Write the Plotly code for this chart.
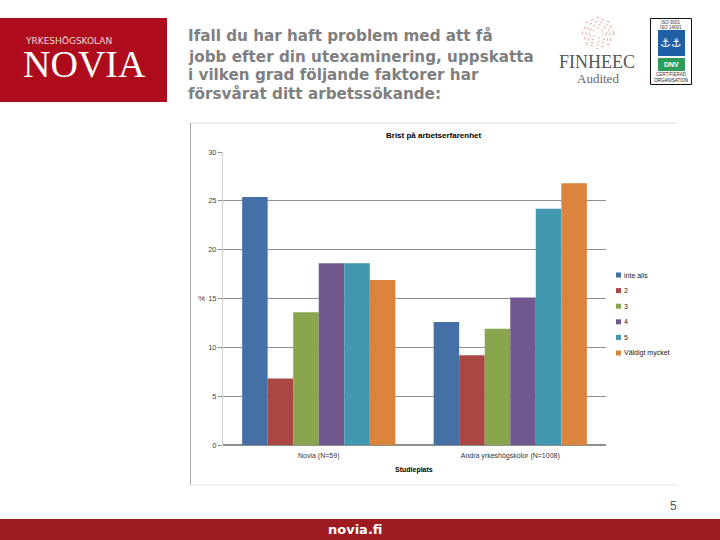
import math
import plotly.graph_objects as go

categories = ["Novia (N=59)", "Andra yrkeshögskolor (N=1008)"]
series_names = ["inte alls", "2", "3", "4", "5", "Väldigt mycket"]
series_colors = ["#4470A5", "#AA4643", "#89A54E", "#71588F", "#4198AF", "#DB843D"]
novia_values = [25.4, 6.8, 13.6, 18.6, 18.6, 16.9]
andra_values = [12.6, 9.2, 11.9, 15.1, 24.2, 26.8]
y_ticks = [0, 5, 10, 15, 20, 25, 30]
heading_lines = [
    "Ifall du har haft problem med att få",
    "jobb efter din utexaminering, uppskatta",
    "i vilken grad följande faktorer har",
    "försvårat ditt arbetssökande:",
]

W, H = 720, 540
px = lambda x: x / W
py = lambda y: 1 - y / H

fig = go.Figure()
for i, name in enumerate(series_names):
    fig.add_bar(x=categories, y=[novia_values[i], andra_values[i]], name=name,
                marker=dict(color=series_colors[i], line_width=0), showlegend=False)

shapes = []
annots = []


def rect(x0, y0, x1, y1, fill=None, line=None, lw=1, layer="above"):
    shapes.append(dict(type="rect", xref="paper", yref="paper", x0=px(x0), x1=px(x1),
                       y0=py(y1), y1=py(y0), fillcolor=fill or "rgba(0,0,0,0)",
                       line=dict(color=line or "rgba(0,0,0,0)", width=lw if line else 0),
                       layer=layer))


def hv(x0, y0, x1, y1, color, lw=1, dash="solid", layer="above"):
    shapes.append(dict(type="line", xref="paper", yref="paper", x0=px(x0), x1=px(x1),
                       y0=py(y0), y1=py(y1), line=dict(color=color, width=lw, dash=dash),
                       layer=layer))


def text(x, y, s, size, color="#000", family="Liberation Sans", anchor="left", bold=False, height=None):
    annots.append(dict(xref="paper", yref="paper", x=px(x), y=py(y), text=f"<b>{s}</b>" if bold else s,
                       showarrow=False, xanchor=anchor, yanchor="middle", borderpad=0, height=height,
                       font=dict(size=size, color=color, family=family)))


# chart frame
hv(190.5, 123, 677, 123, "#DDDDDD", layer="below")
hv(190.5, 123, 190.5, 485, "#A8A8A8", layer="below")
hv(190.5, 485, 677, 485, "#E4E4E4", layer="below")

# red header logo
rect(0, 18, 167, 102, fill="#AE0C1C")
text(24, 40.5, "YRKESHÖGSKOLAN", 9, "#F3D9D9", "DejaVu Sans", height=9)
text(84, 64, "NOVIA", 38, "#FFFFFF", "Liberation Serif", anchor="center", height=30)

# heading
for line, yy in zip(heading_lines, [36, 56, 75, 94]):
    text(187, yy, line, 15.2, "#7F7F7F", "DejaVu Sans", bold=True, height=19)

# FINHEEC logo
cx, cy = 598, 33
for r, col in [(16, "#D88C80"), (12.5, "#E09C90"), (9, "#E09C90"), (5.5, "#E8B4AA")]:
    pts = []
    for k in range(16):
        rr = r * (1 if k % 2 == 0 else 0.88)
        a = k * math.pi / 8
        pts.append((cx + rr * math.cos(a), py(cy + rr * math.sin(a))))
    path = "M" + " L".join(f"{px(a)},{b}" for a, b in pts) + " Z"
    shapes.append(dict(type="path", xref="paper", yref="paper", path=path,
                       line=dict(color=col, width=0.8, dash="dot")))
text(597, 62, "FINHEEC", 18, "#555555", "Liberation Serif", anchor="center", height=18)
text(598, 78, "Audited", 13, "#666666", "Liberation Serif", anchor="center", height=14)

# DNV badge
rect(650.5, 18.5, 691.5, 84.5, fill="#FFFFFF", line="#111111", lw=1)
text(671, 22, "ISO 9001", 4.5, "#333", anchor="center", height=5)
text(671, 27, "ISO 14001", 4.5, "#333", anchor="center", height=5)
rect(658, 30, 685, 56, fill="#1F5FA6")
text(671, 43, "⚓⚓", 12, "#FFFFFF", "DejaVu Sans", anchor="center")
rect(658, 58, 685, 71, fill="#2E9C58")
text(671.5, 65, "<b>DNV</b>", 7, "#FFFFFF", anchor="center")
text(671, 75, "CERTIFIERAD", 4.5, "#333", anchor="center", height=5)
text(671, 80, "ORGANISATION", 4.5, "#111", anchor="center", height=5)

# chart texts
text(433.5, 136, "Brist på arbetserfarenhet", 8, "#000", bold=True, anchor="center")
text(414.5, 470, "Studieplats", 7, "#000", bold=True, anchor="center")
text(201, 298, "%", 8, "#333", anchor="center")

# legend
for i, (name, color) in enumerate(zip(series_names, series_colors)):
    yy = 275 + i * 15.6
    rect(616, yy - 2.5, 621, yy + 2.5, fill=color)
    text(623, yy, name, 7, "#222")

# page number and footer
text(673, 506, "5", 12, "#555555", anchor="center")
rect(0, 519, 720, 540, fill="#9E1B22")
text(355, 529, "novia.fi", 13, "#FFFFFF", "DejaVu Sans", anchor="center", bold=True)

fig.update_layout(
    width=W, height=H, autosize=False, margin=dict(l=0, r=0, t=0, b=0, autoexpand=False),
    paper_bgcolor="#FFFFFF", plot_bgcolor="#FFFFFF", barmode="group", bargap=0.2, bargroupgap=0,
    shapes=shapes, annotations=annots,
    xaxis=dict(domain=[px(223), px(606)], anchor="y", showgrid=False, ticks="",
               showline=False, tickfont=dict(size=7, color="#333", family="Liberation Sans"),
               ticklabelstandoff=5),
    yaxis=dict(domain=[py(445), py(152)], anchor="x", range=[0, 30], tickvals=y_ticks,
               showgrid=True, gridcolor="#8E8E8E", gridwidth=1, zeroline=True, zerolinecolor="#8E8E8E",
               showline=True, linecolor="#D0D0D0", ticks="outside", ticklen=4, tickcolor="#8E8E8E",
               tickfont=dict(size=7.5, color="#444", family="Liberation Sans")),
)
fig.write_html("out.html", config={"displayModeBar": False},
               post_script="document.body.style.margin='0';")
